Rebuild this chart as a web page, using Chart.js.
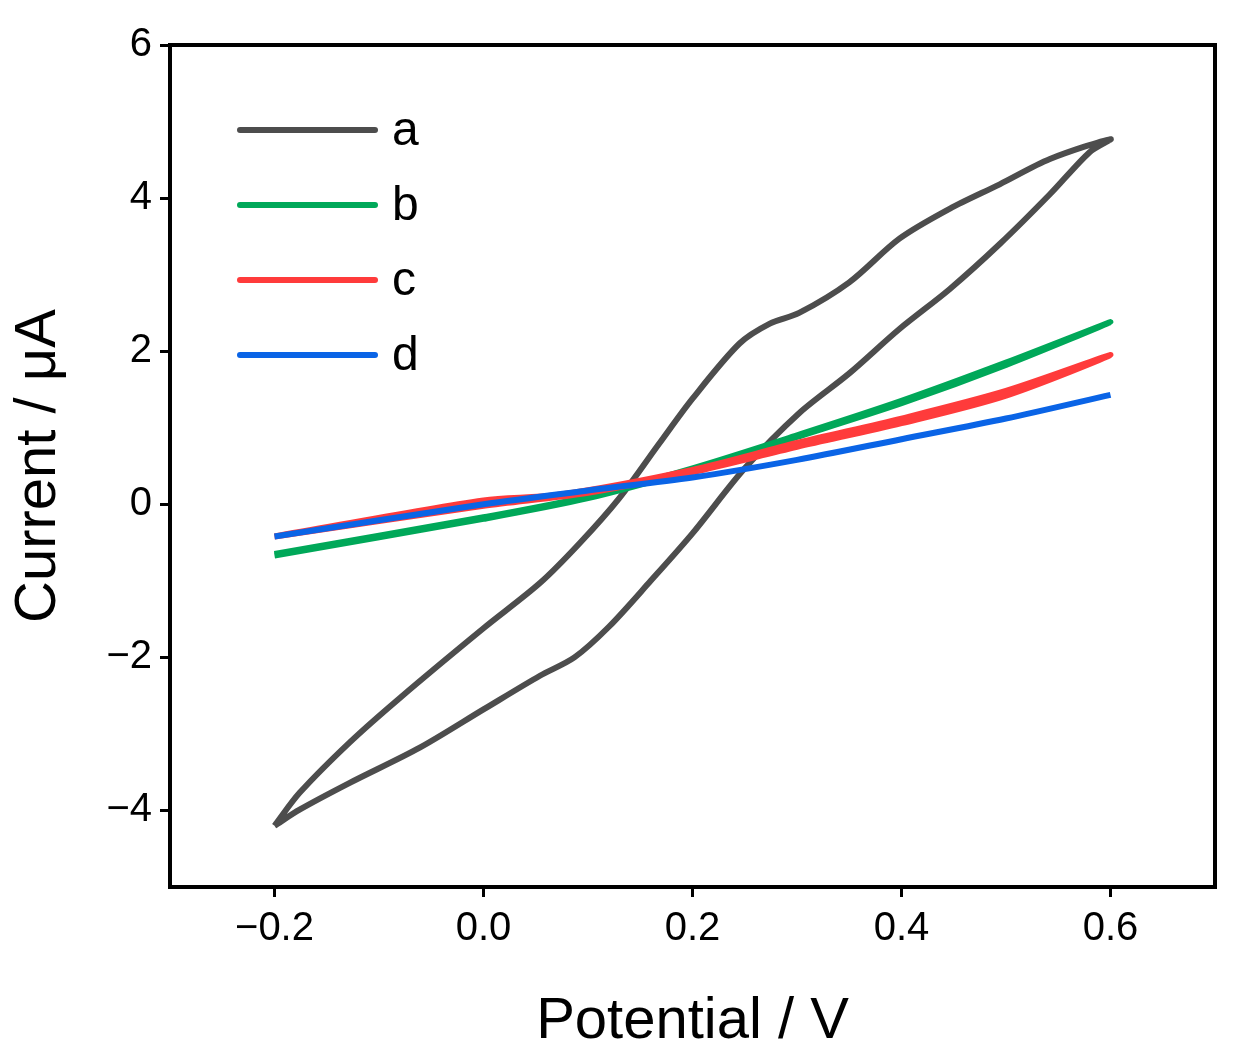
<!DOCTYPE html>
<html><head><meta charset="utf-8">
<script src="https://cdn.jsdelivr.net/npm/chart.js@4"></script>
<style>body{margin:0;background:#fff}#wrap{width:1256px;height:1061px}</style>
</head><body><div id="wrap"><canvas id="cv" width="1256" height="1061"></canvas></div>
<script>
const labels = ["a", "b", "c", "d"];
const colors = ["#4d4d4d", "#00a859", "#ff3b3b", "#0a64e6"];
const xTicks = [-0.2, 0, 0.2, 0.4, 0.6];
const yTicks = [-4, -2, 0, 2, 4, 6];
const curveA = [[-0.2,-4.2],[-0.176,-3.99],[-0.128,-3.64],[-0.061,-3.18],[0,-2.68],[0.054,-2.24],[0.087,-2.0],[0.12,-1.6],[0.16,-1.0],[0.2,-0.38],[0.25,0.47],[0.302,1.19],[0.35,1.71],[0.398,2.29],[0.446,2.81],[0.494,3.4],[0.542,4.05],[0.58,4.6],[0.6,4.77],
  [0.542,4.51],[0.494,4.18],[0.446,3.86],[0.398,3.47],[0.35,2.9],[0.302,2.5],[0.274,2.36],[0.245,2.1],[0.2,1.38],[0.168,0.79],[0.13,0.08],[0.092,-0.51],[0.054,-1.03],[0,-1.62],[-0.08,-2.53],[-0.128,-3.11],[-0.176,-3.77],[-0.2,-4.2]];
const curveB = [[-0.2,-0.65],[0,-0.17],[0.1,0.1],[0.2,0.47],[0.3,0.9],[0.4,1.35],[0.5,1.85],[0.6,2.38],[0.5,1.82],[0.4,1.32],[0.3,0.88],[0.2,0.45],[0.1,0.08],[0,-0.19],[-0.2,-0.67]];
const curveC = [[-0.2,-0.42],[0,0.05],[0.07,0.12],[0.2,0.45],[0.3,0.8],[0.4,1.12],[0.5,1.48],[0.6,1.95],[0.5,1.42],[0.4,1.06],[0.3,0.75],[0.2,0.42],[0.1,0.15],[0,-0.02],[-0.2,-0.42]];
const curveD = [[-0.2,-0.42],[0,0],[0.1,0.18],[0.2,0.35],[0.3,0.58],[0.4,0.85],[0.5,1.12],[0.6,1.43]];
const curves = [curveA, curveB, curveC, curveD];

const frame = {
  id: "frame",
  afterDraw(chart) {
    const {ctx, chartArea: a} = chart;
    ctx.save();
    ctx.strokeStyle = "#000"; ctx.lineWidth = 4;
    ctx.strokeRect(a.left, a.top, a.right - a.left, a.bottom - a.top);
    ctx.font = "48px 'Liberation Sans', Arial";
    ctx.textBaseline = "middle";
    chart.data.datasets.forEach((ds, i) => {
      const y = 130 + i * 75;
      ctx.strokeStyle = ds.borderColor; ctx.lineWidth = 6; ctx.lineCap = "round";
      ctx.beginPath(); ctx.moveTo(240, y); ctx.lineTo(375, y); ctx.stroke();
      ctx.fillStyle = "#000"; ctx.fillText(ds.label, 392, y + 2);
    });
    ctx.restore();
  }
};

new Chart(document.getElementById("cv"), {
  type: "scatter",
  data: {
    datasets: labels.map((l, i) => ({
      label: l, order: 3 - i,
      data: curves[i].map(p => ({x: p[0], y: p[1]})),
      showLine: true, borderColor: colors[i], borderWidth: 6, pointRadius: 0, tension: 0.3
    }))
  },
  options: {
    responsive: false, animation: false,
    layout: {padding: {top: 45, right: 41, left: 0, bottom: 0}},
    plugins: {legend: {display: false}, tooltip: {enabled: false}},
    scales: {
      x: {
        min: -0.3, max: 0.7,
        afterBuildTicks: s => { s.ticks = xTicks.map(v => ({value: v})); },
        afterFit: s => { s.height = 174; },
        ticks: {color: "#000", font: {size: 40, family: "'Liberation Sans', Arial"}, padding: 8,
          callback: v => (v < 0 ? "\u2212" : "") + Math.abs(v).toFixed(1)},
        grid: {drawOnChartArea: false, tickLength: 10, tickWidth: 3, color: "#000"},
        border: {width: 4, color: "#000"},
        title: {display: true, text: "Potential / V", color: "#000", font: {size: 58, family: "'Liberation Sans', Arial"}, padding: {top: 4}}
      },
      y: {
        min: -5, max: 6,
        afterBuildTicks: s => { s.ticks = yTicks.map(v => ({value: v})); },
        afterFit: s => { s.width = 170; },
        ticks: {color: "#000", font: {size: 40, family: "'Liberation Sans', Arial"}, padding: 8,
          callback: v => (v < 0 ? "\u2212" : "") + Math.abs(v)},
        grid: {drawOnChartArea: false, tickLength: 10, tickWidth: 3, color: "#000"},
        border: {width: 4, color: "#000"},
        title: {display: true, text: "Current / \u03bcA", color: "#000", font: {size: 58, family: "'Liberation Sans', Arial"}, padding: {bottom: 4}}
      }
    }
  },
  plugins: [frame]
});
</script></body></html>
